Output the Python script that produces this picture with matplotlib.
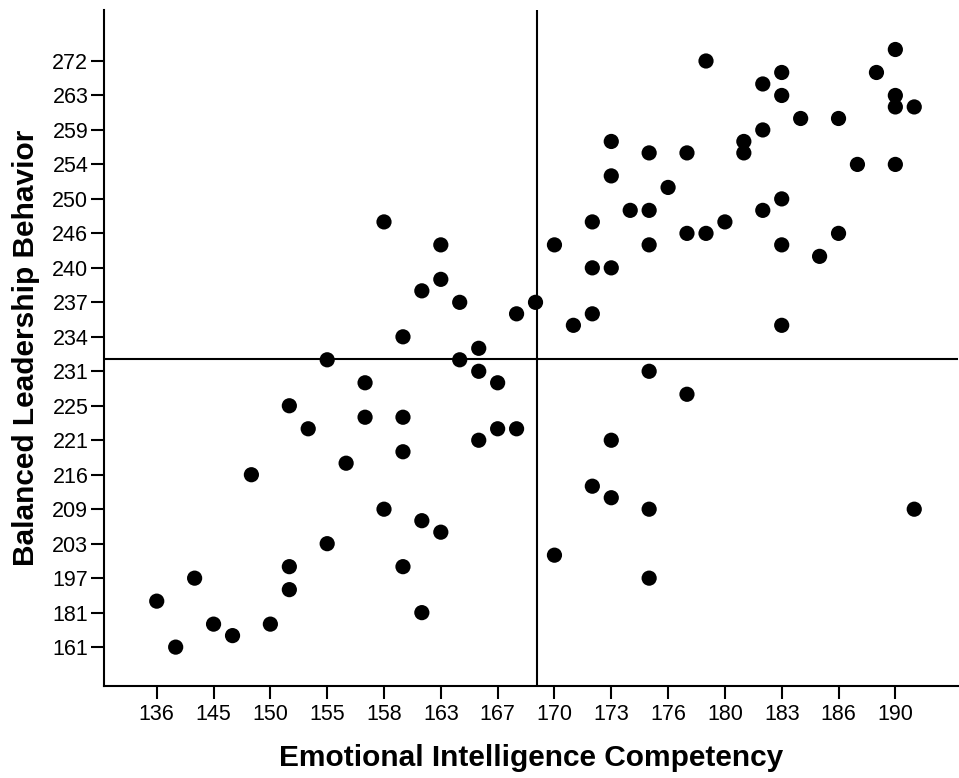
import numpy as np
import matplotlib
matplotlib.use("Agg")
import matplotlib.pyplot as plt

plt.rcParams['font.family'] = ['Liberation Sans', 'DejaVu Sans']

# Tick labels shown on the (rank-like) axes
x_ticks = [136, 145, 150, 155, 158, 163, 167, 170, 173, 176, 180, 183, 186, 190]
y_ticks = [161, 181, 197, 203, 209, 216, 221, 225, 231, 234, 237, 240, 246, 250,
           254, 259, 263, 272]

# Data: Emotional Intelligence Competency (x) vs Balanced Leadership Behavior (y)
ei = [136, 139, 142, 145, 146.67, 148.33, 150, 151.67, 151.67, 151.67,
      153.33, 155, 155, 156, 157, 157, 158, 158, 159.67, 159.67,
      159.67, 159.67, 161.33, 161.33, 161.33, 163, 163, 163, 164.33, 164.33,
      165.67, 165.67, 165.67, 167, 167, 168, 168, 169, 170, 170,
      171, 172, 172, 172, 172, 173, 173, 173, 173, 173,
      174, 175, 175, 175, 175, 175, 175, 176, 177.33, 177.33,
      177.33, 178.67, 178.67, 180, 181, 181, 182, 182, 182, 183,
      183, 183, 183, 183, 184, 185, 186, 186, 187.33, 188.67,
      190, 190, 190, 190, 191.33, 191.33]
blb = [186.33, 161, 197, 174.33, 167.67, 216, 174.33, 225, 199, 191.67,
       222.33, 232, 203, 217.67, 229, 223.67, 247.33, 209, 234, 223.67,
       219.33, 199, 238, 207, 181, 244, 239, 205, 237, 232,
       233, 231, 221, 229, 222.33, 236, 222.33, 237, 244, 201,
       235, 247.33, 240, 236, 213.67, 257.33, 252.67, 240, 221, 211.33,
       248.67, 255.67, 248.67, 244, 231, 209, 197, 251.33, 255.67, 246,
       227, 272, 246, 247.33, 257.33, 255.67, 266, 259, 248.67, 269,
       263, 250, 244, 235, 260.33, 242, 260.33, 246, 254, 269,
       275, 263, 261.67, 254, 261.67, 209]

# Reference (mean) lines
ei_ref = 169.1
blb_ref = 232.1


def make_scale(ticks):
    t = np.asarray(ticks, float)
    idx = np.arange(len(t), dtype=float)

    def fwd(v):
        v = np.asarray(v, float)
        out = np.interp(v, t, idx)
        out = np.where(v < t[0], (v - t[0]) / (t[1] - t[0]), out)
        out = np.where(v > t[-1], idx[-1] + (v - t[-1]) / (t[-1] - t[-2]), out)
        return out

    def inv(p):
        p = np.asarray(p, float)
        out = np.interp(p, idx, t)
        out = np.where(p < 0, t[0] + p * (t[1] - t[0]), out)
        out = np.where(p > idx[-1], t[-1] + (p - idx[-1]) * (t[-1] - t[-2]), out)
        return out

    return fwd, inv


fig = plt.figure(figsize=(9.59, 7.78), dpi=100)
ax = fig.add_axes([0.1088, 0.1186, 0.890, 0.8685])

ax.set_xscale('function', functions=make_scale(x_ticks))
ax.set_yscale('function', functions=make_scale(y_ticks))

ax.scatter(ei, blb, s=120, color='black', edgecolors='none', zorder=3)

ax.axvline(ei_ref, color='black', lw=1.5, zorder=2)
ax.axhline(blb_ref, color='black', lw=1.5, zorder=2)

ax.set_xlim(127.7, 194.4)
ax.set_ylim(138.6, 285.3)

ax.set_xticks(x_ticks)
ax.set_xticklabels([str(v) for v in x_ticks])
ax.set_yticks(y_ticks)
ax.set_yticklabels([str(v) for v in y_ticks])
ax.minorticks_off()

for s in ['top', 'right']:
    ax.spines[s].set_visible(False)
for s in ['left', 'bottom']:
    ax.spines[s].set_linewidth(1.5)
    ax.spines[s].set_color('black')

ax.tick_params(axis='both', direction='out', length=9.5, width=1.5,
               colors='black', labelsize=15.5)
ax.tick_params(axis='x', pad=4)
ax.tick_params(axis='y', pad=2)

ax.set_xlabel('Emotional Intelligence Competency', fontsize=21.5,
              fontweight='bold', labelpad=13)
ax.set_ylabel('Balanced Leadership Behavior', fontsize=21.5,
              fontweight='bold', labelpad=9)

fig.savefig('out.png', dpi=100)
